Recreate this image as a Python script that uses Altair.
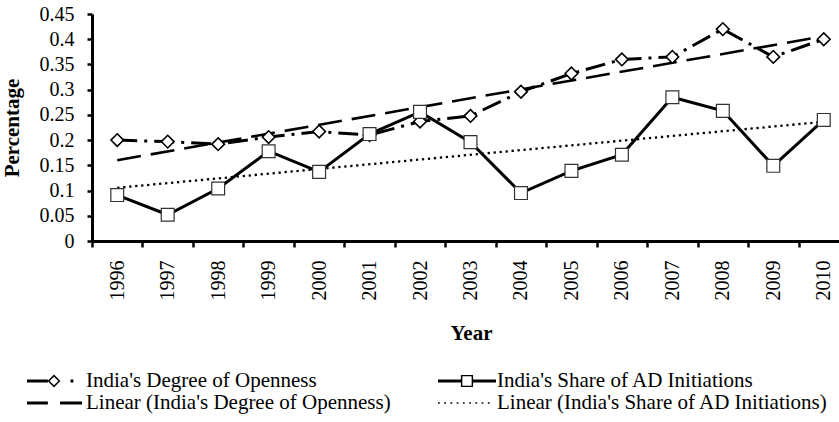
import altair as alt
import pandas as pd

# --- data -----------------------------------------------------------------
years = list(range(1996, 2011))
openness = [0.200, 0.197, 0.192, 0.206, 0.217, 0.210, 0.237, 0.248,
            0.296, 0.332, 0.360, 0.365, 0.420, 0.365, 0.400]
ad_share = [0.091, 0.052, 0.104, 0.178, 0.137, 0.212, 0.256, 0.196,
            0.095, 0.139, 0.171, 0.285, 0.258, 0.149, 0.240]

OPEN = "India's Degree of Openness"
AD = "India's Share of AD Initiations"
LIN_OPEN = "Linear (India's Degree of Openness)"
LIN_AD = "Linear (India's Share of AD Initiations)"
# legend fills column by column: left column openness, right column AD share
legend_labels = [OPEN, LIN_OPEN, AD, LIN_AD]
y_ticks = [0, 0.05, 0.1, 0.15, 0.2, 0.25, 0.3, 0.35, 0.4, 0.45]

df = pd.DataFrame({
    "year": years * 2,
    "value": openness + ad_share,
    "series": [OPEN] * len(years) + [AD] * len(years),
})
legend_df = pd.DataFrame({"label": legend_labels})

FONT = "Liberation Serif"

# --- legend glyphs (custom symbol paths in the unit square) ----------------
def rect(x0, x1, h):
    return f"M{x0},{-h}H{x1}V{h}H{x0}Z"

open_glyph = (rect(-1, -0.28, 0.052)
              + "M-0.29,0L-0.07,-0.22L0.15,0L-0.07,0.22Z"
              + "M-0.22,0L-0.07,0.15L0.08,0L-0.07,-0.15Z"
              + rect(0.5, 0.6, 0.05))
ad_glyph = (rect(-1, -0.21, 0.052) + rect(0.21, 1, 0.052)
            + "M-0.21,-0.21H0.21V0.21H-0.21Z"
            + "M-0.16,-0.16V0.16H0.16V-0.16Z")
lin_open_glyph = rect(-1, -0.28, 0.05) + rect(0.14, 0.9, 0.05)
lin_ad_glyph = "".join(rect(round(-1 + 0.215 * i, 3), round(-1 + 0.215 * i + 0.06, 3), 0.03)
                       for i in range(9))

# --- shared encodings ------------------------------------------------------
x_enc = alt.X(
    "year:O",
    scale=alt.Scale(type="band", domain=years, range=[0, 757],
                    paddingInner=0, paddingOuter=0),
    axis=alt.Axis(
        title="Year", titleFont=FONT, titleFontSize=21, titleFontWeight="bold",
        titleColor="black", titleX=379, titleY=92, titleBaseline="middle",
        labelFont=FONT, labelFontSize=20, labelColor="black", labelAngle=270,
        labelPadding=13, tickBand="extent", tickSize=6, tickWidth=2.5,
        tickColor="black", domainColor="black", domainWidth=3, grid=False,
    ),
)
y_enc = alt.Y(
    "value:Q",
    scale=alt.Scale(domain=[0, 0.45], nice=False, zero=True),
    axis=alt.Axis(
        title="Percentage", titleFont=FONT, titleFontSize=21, titleFontWeight="bold",
        titleColor="black", titleAngle=270, titleX=-80, titleY=113.5,
        titleBaseline="middle", titleAlign="center",
        values=y_ticks, format="~g",
        labelFont=FONT, labelFontSize=20, labelColor="black", labelPadding=13,
        tickSize=5, tickWidth=2.5, tickColor="black",
        domainColor="black", domainWidth=3, grid=False,
    ),
)

base = alt.Chart(df).encode(x=x_enc, y=y_enc)

trend_open = base.transform_filter(alt.datum.series == OPEN).transform_regression(
    "year", "value").mark_line(color="black", strokeWidth=2.6, strokeDash=[24, 10])
trend_ad = base.transform_filter(alt.datum.series == AD).transform_regression(
    "year", "value").mark_line(color="black", strokeWidth=2.3, strokeDash=[2.3, 3.7])

open_line = base.transform_filter(alt.datum.series == OPEN).mark_line(
    color="black", strokeWidth=3, strokeDash=[20, 7, 3, 7])
open_pts = base.transform_filter(alt.datum.series == OPEN).mark_point(
    shape="diamond", size=160, filled=True, fill="white", stroke="black",
    strokeWidth=1.6, opacity=1)
ad_line = base.transform_filter(alt.datum.series == AD).mark_line(
    color="black", strokeWidth=3)
ad_pts = base.transform_filter(alt.datum.series == AD).mark_point(
    shape="square", size=165, filled=True, fill="white", stroke="#333333",
    strokeWidth=1.2, opacity=1)

# legend-only layer: carries the four legend entries and their glyphs
legend_layer = alt.Chart(legend_df).transform_filter("false").mark_point(
    filled=True, color="black", size=3364, strokeWidth=0, opacity=1
).encode(
    shape=alt.Shape(
        "label:N",
        scale=alt.Scale(domain=legend_labels,
                        range=[open_glyph, lin_open_glyph, ad_glyph, lin_ad_glyph]),
        legend=alt.Legend(
            title=None, orient="none", legendX=-65, legendY=356.5, columns=2,
            columnPadding=47, rowPadding=0, padding=0, clipHeight=21,
            symbolSize=3364, symbolStrokeWidth=0, symbolFillColor="black",
            symbolOpacity=1, labelFont=FONT, labelFontSize=21, labelColor="black",
            labelOffset=1, labelLimit=500,
        ),
    )
)

chart = alt.layer(
    trend_open, trend_ad, open_line, open_pts, ad_line, ad_pts, legend_layer
).resolve_scale(shape="independent").properties(
    width=747, height=227,
    autosize=alt.AutoSizeParams(type="none"),
    padding={"left": 92, "top": 14, "right": 0, "bottom": 181},
    background="white",
).configure_view(stroke=None)

chart.save("out.html", embed_options={"renderer": "svg", "actions": False})
